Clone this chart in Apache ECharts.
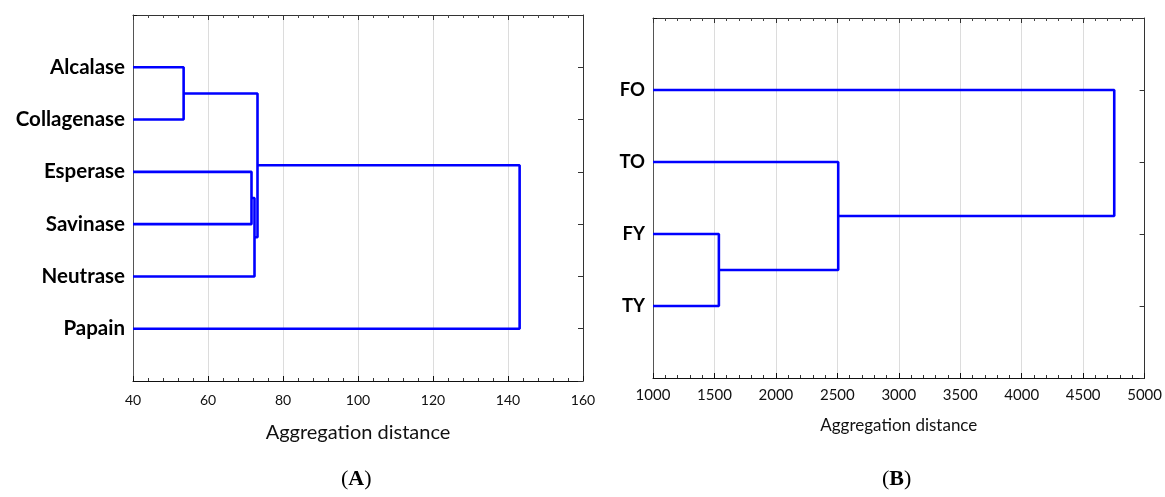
<!DOCTYPE html>
<html>
<head>
<meta charset="utf-8">
<script src="https://cdn.jsdelivr.net/npm/echarts@6/dist/echarts.min.js"></script>
<style>html,body{margin:0;padding:0;background:#fff}#c{width:1165px;height:497px}</style>
</head>
<body>
<div id="c"></div>
<script>
// ---- Data: panel A ----
const leavesA = ['Alcalase', 'Collagenase', 'Esperase', 'Savinase', 'Neutrase', 'Papain'];
// merges: [childA, childB, aggregation distance]; new clusters are numbered after the leaves
const mergesA = [[0, 1, 53.5], [2, 3, 71.6], [7, 4, 72.4], [6, 8, 73.2], [9, 5, 143.1]];
const xTicksA = [40, 60, 80, 100, 120, 140, 160];

// ---- Data: panel B ----
const leavesB = ['FO', 'TO', 'FY', 'TY'];
const mergesB = [[2, 3, 1536], [1, 4, 2507], [0, 5, 4753]];
const xTicksB = [1000, 1500, 2000, 2500, 3000, 3500, 4000, 4500, 5000];

const axisTitle = 'Aggregation distance';
const panelLabels = ['A', 'B'];

function buildLinks(leaves, merges, floor) {
  const n = leaves.length;
  const pos = [], h = [];
  for (let i = 0; i < n; i++) { pos[i] = i + 1; h[i] = floor; }
  const links = [];
  merges.forEach((m, k) => {
    const [a, b, d] = m;
    const id = n + k;
    pos[id] = (pos[a] + pos[b]) / 2;
    h[id] = d;
    links.push([[h[a], pos[a]], [d, pos[a]], [d, pos[b]], [h[b], pos[b]]]);
  });
  return links;
}

const blue = '#0000ff';
const lineW = 2.6;

function xAxes(ticks, gridIndex, labelSize, labelMargin, nameSize, nameGap) {
  const min = ticks[0], max = ticks[ticks.length - 1], step = ticks[1] - ticks[0];
  return [{
    type: 'value', gridIndex, position: 'bottom', min, max, interval: step,
    axisLine: { show: true, onZero: false, lineStyle: { color: '#111', width: 1 } },
    axisTick: { show: true, inside: true, length: 5, lineStyle: { color: '#111' } },
    minorTick: { show: true, splitNumber: 5, length: 3, lineStyle: { color: '#333' } },
    splitLine: { show: true, lineStyle: { color: '#dcdcdc', width: 1 } },
    axisLabel: { show: true, margin: labelMargin, fontFamily: 'Lato', fontSize: labelSize, color: '#111', formatter: v => String(v) },
    name: axisTitle, nameLocation: 'middle', nameGap,
    nameTextStyle: { fontFamily: 'Lato', fontSize: nameSize, color: '#111' }
  }, {
    type: 'value', gridIndex, position: 'top', min, max, interval: step,
    axisLine: { show: true, onZero: false, lineStyle: { color: '#333', width: 1 } },
    axisTick: { show: true, inside: true, length: 5, lineStyle: { color: '#333' } },
    minorTick: { show: true, splitNumber: 5, length: 3, lineStyle: { color: '#444' } },
    splitLine: { show: false }, axisLabel: { show: false }
  }];
}

function yAxes(leaves, gridIndex, labelSize) {
  const max = leaves.length + 1;
  return [{
    type: 'value', gridIndex, position: 'left', min: 0, max, interval: 1, inverse: true,
    axisLine: { show: true, onZero: false, lineStyle: { color: '#555', width: 1 } },
    axisTick: { show: true, inside: true, length: 4, lineStyle: { color: '#111' } },
    splitLine: { show: false },
    axisLabel: {
      show: true, margin: 8, fontFamily: 'Lato', fontWeight: 'bold', fontSize: labelSize, color: '#000',
      formatter: v => (v >= 1 && v <= leaves.length) ? leaves[v - 1] : ''
    }
  }, {
    type: 'value', gridIndex, position: 'right', min: 0, max, interval: 1, inverse: true,
    axisLine: { show: true, onZero: false, lineStyle: { color: '#333', width: 1 } },
    axisTick: { show: true, inside: true, length: 5, lineStyle: { color: '#333' } },
    splitLine: { show: false }, axisLabel: { show: false }
  }];
}

const linksA = buildLinks(leavesA, mergesA, xTicksA[0]);
const linksB = buildLinks(leavesB, mergesB, xTicksB[0]);

const series = [];
linksA.forEach(l => series.push({ type: 'line', xAxisIndex: 0, yAxisIndex: 0, data: l, showSymbol: false, symbol: 'none', lineStyle: { color: blue, width: lineW }, silent: true }));
linksB.forEach(l => series.push({ type: 'line', xAxisIndex: 2, yAxisIndex: 2, data: l, showSymbol: false, symbol: 'none', lineStyle: { color: blue, width: lineW }, silent: true }));

const labelRich = {
  p: { fontFamily: 'Liberation Serif', fontSize: 22, fill: '#000' },
  b: { fontFamily: 'Liberation Serif', fontWeight: 'bold', fontSize: 22, fill: '#000' }
};

const chart = echarts.init(document.getElementById('c'));
chart.setOption({
  animation: false,
  backgroundColor: '#fff',
  grid: [
    { left: 133, top: 15, width: 450, height: 366 },
    { left: 653, top: 18, width: 493, height: 360 }
  ],
  xAxis: [...xAxes(xTicksA, 0, 14, 12, 20, 42), ...xAxes(xTicksB, 1, 15, 10, 17, 39)],
  yAxis: [...yAxes(leavesA, 0, 20.5), ...yAxes(leavesB, 1, 18.5)],
  series,
  graphic: [
    { type: 'text', left: 358 - 17, top: 468, style: { text: '{p|(}{b|' + panelLabels[0] + '}{p|)}', rich: labelRich } },
    { type: 'text', left: 899 - 17, top: 468, style: { text: '{p|(}{b|' + panelLabels[1] + '}{p|)}', rich: labelRich } }
  ]
});
</script>
</body>
</html>
